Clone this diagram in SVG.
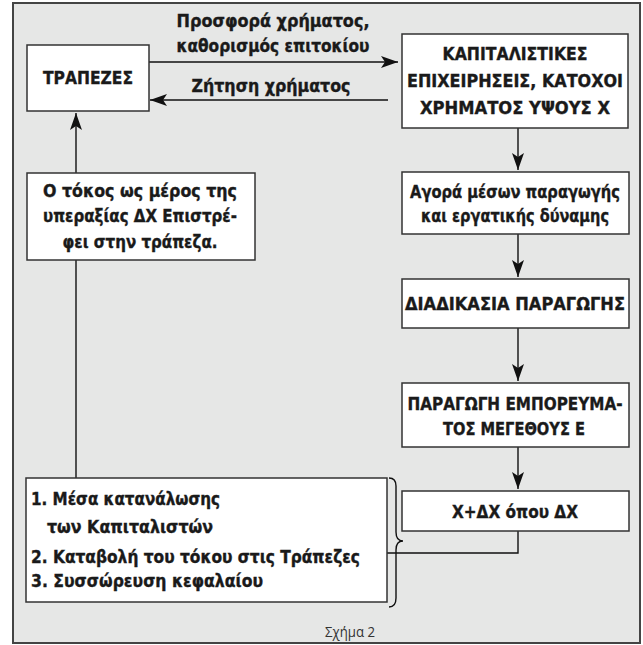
<svg xmlns="http://www.w3.org/2000/svg" width="643" height="645" viewBox="0 0 643 645">
<style>
.box{fill:#fff;stroke:#333;stroke-width:1.5}
.ln{fill:none;stroke:#111;stroke-width:1.4}
.b{font-family:"DejaVu Sans Condensed","Liberation Sans Narrow","Liberation Sans",sans-serif;font-weight:bold;font-size:18px;fill:#1a1a1a;stroke:#1a1a1a;stroke-width:0.35}
.c{text-anchor:middle}
.cap{font-family:"Open Sans","Liberation Sans",sans-serif;font-size:14.5px;fill:#333}
</style>
<defs>
<marker id="ah" markerUnits="userSpaceOnUse" markerWidth="18" markerHeight="12" viewBox="0 0 18 12" refX="17" refY="6" orient="auto">
<path d="M0,0 L17,6 L0,12 L4,6 z" fill="#111"/>
</marker>
</defs>
<rect x="13" y="3" width="627" height="640" fill="#e6e7e6" stroke="#444" stroke-width="2"/>
<g id="connectors">
<line class="ln" x1="149" y1="62" x2="398" y2="62" marker-end="url(#ah)"/>
<line class="ln" x1="388" y1="100" x2="150" y2="100" marker-end="url(#ah)"/>
<line class="ln" x1="518" y1="128" x2="518" y2="170" marker-end="url(#ah)"/>
<line class="ln" x1="518" y1="234" x2="518" y2="277" marker-end="url(#ah)"/>
<line class="ln" x1="518" y1="328" x2="518" y2="381" marker-end="url(#ah)"/>
<line class="ln" x1="518" y1="447" x2="518" y2="489" marker-end="url(#ah)"/>
<polyline class="ln" points="518,531 518,553 377,553"/>
<path class="ln" d="M369,547 L375,547 L375,569 L369,569" stroke-width="2"/>
<path class="ln" d="M389,478 Q396,478 396,486 L396,532 Q396,541 403,541 Q396,541 396,550 L396,598 Q396,607 389,607"/>
<line class="ln" x1="76" y1="478" x2="76" y2="260"/>
<line class="ln" x1="76" y1="173" x2="76" y2="113" marker-end="url(#ah)"/>
<text class="b c" x="273" y="27" textLength="193" lengthAdjust="spacingAndGlyphs">Προσφορά χρήματος,</text>
<text class="b c" x="273" y="52" textLength="193" lengthAdjust="spacingAndGlyphs">καθορισμός επιτοκίου</text>
<text class="b c" x="271" y="92" textLength="159" lengthAdjust="spacingAndGlyphs">Ζήτηση χρήματος</text>
</g>
<g id="trapezes">
<rect class="box" x="27" y="45" width="122" height="66"/>
<text class="b c" x="88" y="84" textLength="90" lengthAdjust="spacingAndGlyphs">ΤΡΑΠΕΖΕΣ</text>
</g>
<g id="capitalists">
<rect class="box" x="402" y="34" width="226" height="94"/>
<text class="b c" x="515" y="60" textLength="145" lengthAdjust="spacingAndGlyphs">ΚΑΠΙΤΑΛΙΣΤΙΚΕΣ</text>
<text class="b c" x="515" y="87" textLength="216" lengthAdjust="spacingAndGlyphs">ΕΠΙΧΕΙΡΗΣΕΙΣ, ΚΑΤΟΧΟΙ</text>
<text class="b c" x="515" y="114" textLength="190" lengthAdjust="spacingAndGlyphs">ΧΡΗΜΑΤΟΣ ΥΨΟΥΣ Χ</text>
</g>
<g id="purchase">
<rect class="box" x="402" y="172" width="227" height="62"/>
<text class="b c" x="515" y="198" textLength="210" lengthAdjust="spacingAndGlyphs">Αγορά μέσων παραγωγής</text>
<text class="b c" x="515" y="222" textLength="188" lengthAdjust="spacingAndGlyphs">και εργατικής δύναμης</text>
</g>
<g id="production">
<rect class="box" x="402" y="279" width="227" height="49"/>
<text class="b c" x="515" y="310" textLength="220" lengthAdjust="spacingAndGlyphs">ΔΙΑΔΙΚΑΣΙΑ ΠΑΡΑΓΩΓΗΣ</text>
</g>
<g id="commodity">
<rect class="box" x="402" y="383" width="227" height="64"/>
<text class="b c" x="515" y="410" textLength="215" lengthAdjust="spacingAndGlyphs">ΠΑΡΑΓΩΓΗ ΕΜΠΟΡΕΥΜΑ-</text>
<text class="b c" x="514" y="435" textLength="142" lengthAdjust="spacingAndGlyphs">ΤΟΣ ΜΕΓΕΘΟΥΣ Ε</text>
</g>
<g id="surplus">
<rect class="box" x="402" y="491" width="227" height="40"/>
<text class="b c" x="515" y="518" textLength="126" lengthAdjust="spacingAndGlyphs">Χ+ΔΧ όπου ΔΧ</text>
</g>
<g id="interest">
<rect class="box" x="27" y="173" width="228" height="87"/>
<text class="b c" x="140" y="197" textLength="194" lengthAdjust="spacingAndGlyphs">Ο τόκος ως μέρος της</text>
<text class="b c" x="140" y="222" textLength="194" lengthAdjust="spacingAndGlyphs">υπεραξίας ΔΧ Επιστρέ-</text>
<text class="b c" x="140" y="248" textLength="155" lengthAdjust="spacingAndGlyphs">φει στην τράπεζα.</text>
</g>
<g id="uses">
<rect class="box" x="26" y="478" width="361" height="124"/>
<text class="b" x="31" y="505" textLength="189" lengthAdjust="spacingAndGlyphs">1. Μέσα κατανάλωσης</text>
<text class="b" x="47" y="533" textLength="166" lengthAdjust="spacingAndGlyphs">των Καπιταλιστών</text>
<text class="b" x="31" y="563" textLength="329" lengthAdjust="spacingAndGlyphs">2. Καταβολή του τόκου στις Τράπεζες</text>
<text class="b" x="31" y="587" textLength="232" lengthAdjust="spacingAndGlyphs">3. Συσσώρευση κεφαλαίου</text>
</g>
<text class="cap" x="325" y="637" textLength="50" lengthAdjust="spacingAndGlyphs">Σχήμα 2</text>
</svg>
